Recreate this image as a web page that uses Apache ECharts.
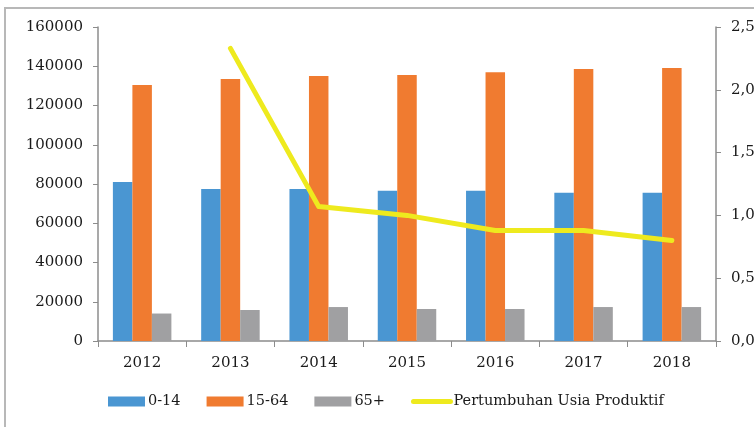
<!DOCTYPE html>
<html>
<head>
<meta charset="utf-8">
<script src="https://cdn.jsdelivr.net/npm/echarts@6/dist/echarts.min.js"></script>
<style>
  html, body { margin: 0; padding: 0; background: #fff; }
  #chart { width: 754px; height: 427px; }
</style>
</head>
<body>
<div id="chart"></div>
<script>
// data
const years = ['2012', '2013', '2014', '2015', '2016', '2017', '2018']
const age0to14 = [81000, 77500, 77500, 76500, 76500, 75500, 75500]
const age15to64 = [130500, 133500, 135000, 135500, 137000, 138600, 139100]
const age65plus = [14000, 15800, 17300, 16300, 16300, 17300, 17300]
const growthProductive = [null, 2.33, 1.07, 1.0, 0.88, 0.88, 0.8]

const font = 'DejaVu Serif'
const axisGray = '#8c8c8c'
const lineYellow = '#eeea1e'

const chart = echarts.init(document.getElementById('chart'))

chart.setOption({
  animation: false,
  textStyle: { fontFamily: font, color: '#222' },
  graphic: [{
    type: 'rect',
    shape: { x: 5, y: 8, width: 800, height: 500 },
    style: { fill: 'none', stroke: '#b8b8b8', lineWidth: 2 },
    silent: true
  }],
  legend: {
    left: 103,
    top: 389,
    itemWidth: 37,
    itemHeight: 10,
    itemGap: 26,
    textStyle: { fontFamily: font, fontSize: 14.5, color: '#1a1a1a', padding: [0, 0, 0, -2] },
    data: [
      { name: '0-14', icon: 'rect' },
      { name: '15-64', icon: 'rect' },
      { name: '65+', icon: 'rect' },
      {
        name: 'Pertumbuhan Usia Produktif',
        itemStyle: { opacity: 0 },
        lineStyle: { width: 5, color: lineYellow, cap: 'round' }
      }
    ]
  },
  grid: { left: 98, right: 38, top: 27, bottom: 86, outerBoundsMode: 'none' },
  xAxis: {
    type: 'category',
    data: years,
    axisLine: { lineStyle: { color: axisGray, width: 1.5 } },
    axisTick: { show: true, length: 6, lineStyle: { color: axisGray } },
    axisLabel: { fontFamily: font, fontSize: 15, color: '#1a1a1a', margin: 15 }
  },
  yAxis: [{
    type: 'value',
    min: 0,
    max: 160000,
    interval: 20000,
    splitLine: { show: false },
    axisLine: { show: true, lineStyle: { color: axisGray, width: 1.5 } },
    axisTick: { show: true, length: 5, lineStyle: { color: axisGray } },
    axisLabel: {
      fontFamily: font, fontSize: 15, color: '#1a1a1a', margin: 15,
      formatter: v => String(v)
    }
  }, {
    type: 'value',
    min: 0,
    max: 2.5,
    interval: 0.5,
    splitLine: { show: false },
    axisLine: { show: true, lineStyle: { color: axisGray, width: 1.5 } },
    axisTick: { show: true, length: 5, lineStyle: { color: axisGray } },
    axisLabel: {
      fontFamily: font, fontSize: 15, color: '#1a1a1a', margin: 15,
      formatter: v => v.toFixed(2).replace('.', ',')
    }
  }],
  series: [{
    name: '0-14',
    type: 'bar',
    data: age0to14,
    barWidth: 19.5,
    barGap: '0%',
    itemStyle: { color: '#4a96d2' }
  }, {
    name: '15-64',
    type: 'bar',
    data: age15to64,
    barWidth: 19.5,
    barGap: '0%',
    itemStyle: { color: '#f07b30' }
  }, {
    name: '65+',
    type: 'bar',
    data: age65plus,
    barWidth: 19.5,
    barGap: '0%',
    itemStyle: { color: '#a0a0a2' }
  }, {
    name: 'Pertumbuhan Usia Produktif',
    type: 'line',
    yAxisIndex: 1,
    data: growthProductive,
    symbol: 'none',
    showSymbol: false,
    lineStyle: { color: lineYellow, width: 5, join: 'round', cap: 'round' },
    itemStyle: { color: lineYellow }
  }]
})
</script>
</body>
</html>
